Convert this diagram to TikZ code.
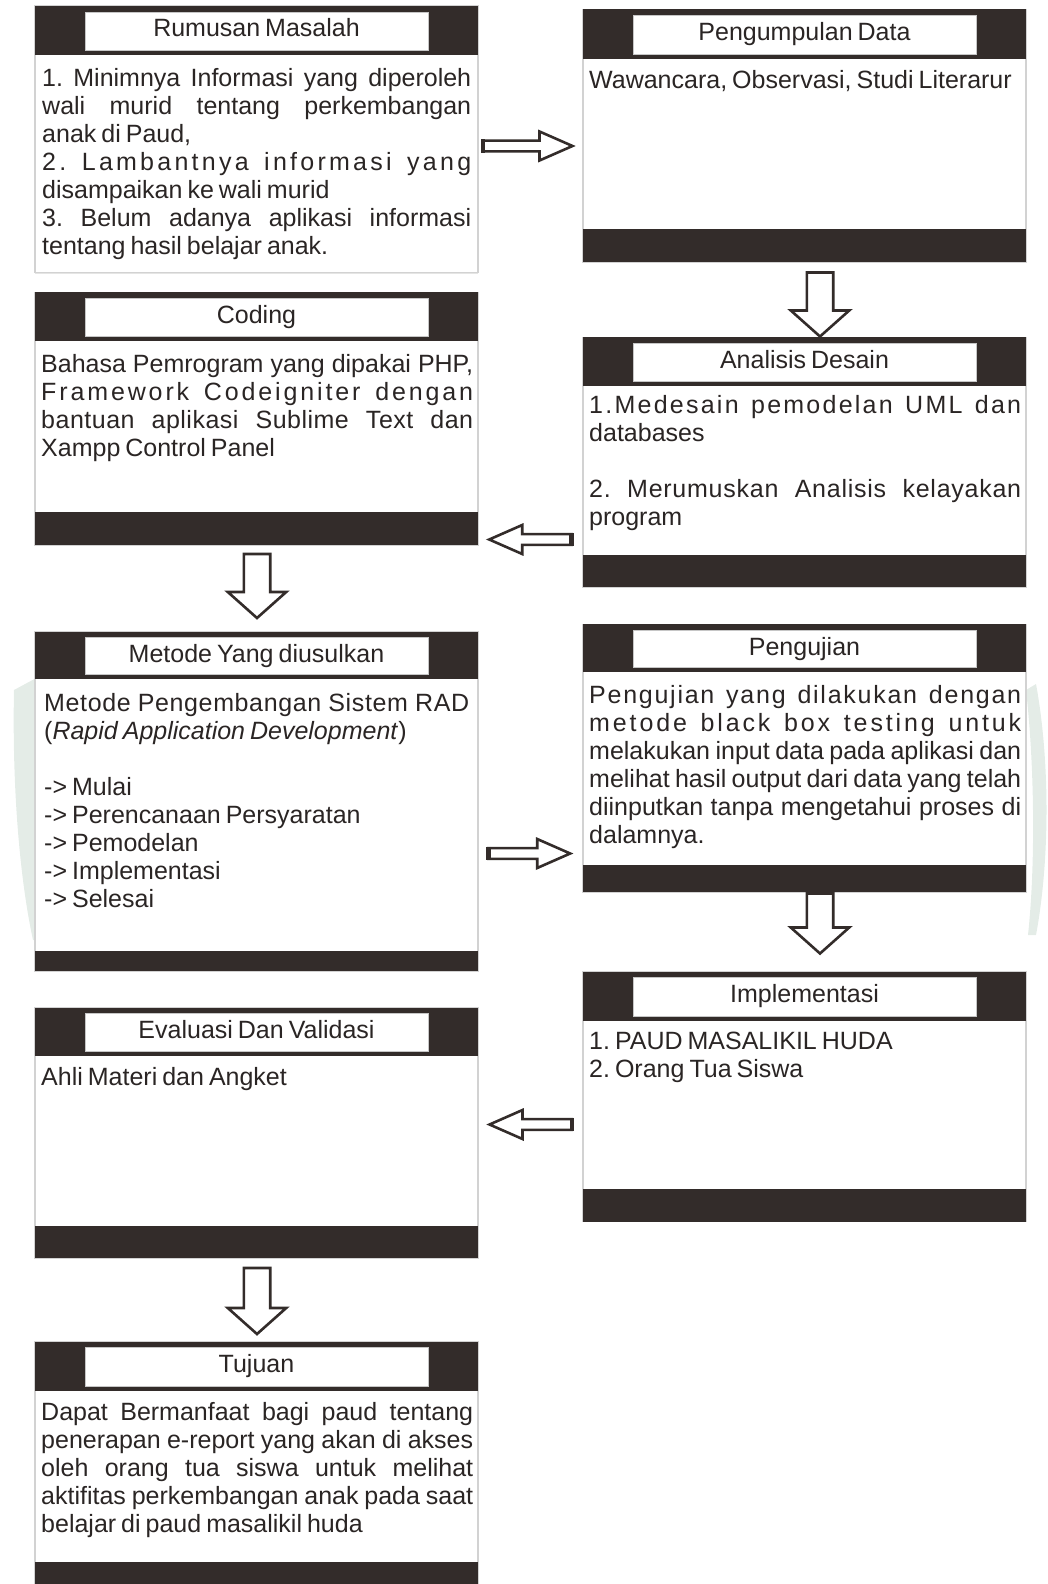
\documentclass[tikz,border=0pt]{standalone}
\usepackage{fontspec}
\setmainfont{Liberation Sans}
\usetikzlibrary{fit}
\definecolor{ink}{HTML}{332C2A}
\definecolor{txt}{HTML}{2A2524}
\definecolor{framegray}{HTML}{D2D2D2}
\definecolor{wmark}{HTML}{E4ECE7}
\newcommand\bodysize{\fontsize{25}{28}\selectfont}
\newcommand\bsp{\spaceskip=0.2em plus 0.8em minus 0.05em\xspaceskip=\spaceskip\relax}
\newcommand\jl[1]{\makebox[\hsize][s]{\bsp#1}}
\newcommand\jls[2]{\makebox[\hsize][s]{\addfontfeature{LetterSpace=#1}\bsp#2}}
\tikzset{
  boxframe/.style={draw=framegray, line width=1.2pt, fill=white, inner sep=0pt},
  ttl/.style={draw=gray!45, line width=0.7pt, fill=white, inner sep=0pt},
  ttltext/.style={font=\bodysize, text=txt, inner sep=0pt, anchor=base},
  body/.style={font=\bodysize, text=txt, inner sep=0pt, anchor=north west},
  barrow/.style={draw=ink, line width=2.6pt, fill=white, line join=miter},
}
% panel: name, x0, x1, top, header bottom, bar top, bottom, title
\newcommand\panel[8]{%
  \node[boxframe, fit={(#2,#4) (#3,#7)}] (#1) {};
  \fill[ink] (#2,#4) rectangle (#3,#5);
  \fill[ink] (#2,#6) rectangle (#3,#7);
  \node[ttl, fit={(#2+50,#4+6) (#3-49.5,#5-4.5)}] (#1-t) {};
  \node[ttltext] (#1-l) at ({(#2+#3)/2},#4+31) {\bsp#8};
}
% horizontal block arrow: tail x, tip x, y
\newcommand\hblock[3]{%
  \pgfmathsetmacro\hbase{#2-33*sign(#2-#1)}%
  \draw[barrow] (#1,#3-5.4) -- (\hbase,#3-5.4) -- (\hbase,#3-14.5) -- (#2,#3) -- (\hbase,#3+14.5) -- (\hbase,#3+5.4) -- (#1,#3+5.4) -- cycle;
  \draw[ink, line width=4.5pt] (#1,#3-6.7) -- (#1,#3+6.7);
}
% vertical (down) block arrow: x, top y, tip y
\newcommand\vblock[3]{%
  \draw[barrow] (#1-13.2,#2) -- (#1-13.2,#3-26) -- (#1-29.2,#3-26) -- (#1,#3) -- (#1+29.2,#3-26) -- (#1+13.2,#3-26) -- (#1+13.2,#2) -- cycle;
}
\begin{document}
\begin{tikzpicture}[x=1pt,y=-1pt]
\useasboundingbox (0,0) rectangle (1047,1584);
% faint watermark
\fill[wmark] (14,690) -- (40,676) -- (40,940) -- (33,940) .. controls (20,880) and (12,790) .. (14,690) -- cycle;
\fill[wmark] (1026,690) .. controls (1034,760) and (1036,860) .. (1028,935) -- (1036,935) .. controls (1050,860) and (1050,760) .. (1036,684) -- cycle;

% panels
\panel{rm}{35}{478}{6}{55}{272.7}{272.7}{Rumusan Masalah}
\panel{pd}{583}{1026}{9.4}{58.8}{229.2}{262.2}{Pengumpulan Data}
\panel{cd}{35}{478}{292.4}{341}{512}{545}{Coding}
\panel{ad}{583}{1026}{337.3}{386}{555}{587.3}{Analisis Desain}
\panel{mt}{35}{478}{631.6}{678.5}{951}{971}{Metode Yang diusulkan}
\panel{pj}{583}{1026}{624.3}{671.7}{864.5}{892}{Pengujian}
\panel{im}{583}{1026}{971.7}{1021}{1189.3}{1221.7}{Implementasi}
\panel{ev}{35}{478}{1007.6}{1056}{1226}{1258}{Evaluasi Dan Validasi}
\panel{tj}{35}{478}{1341.8}{1390.9}{1562.3}{1584}{Tujuan}

% body texts
\node[body, text width=429pt] (rm-b) at (42,66.4) {\bsp\strut\jl{1. Minimnya Informasi yang diperoleh}\\
\jl{wali murid tentang perkembangan}\\
anak di Paud,\\
\jls{13}{2. Lambantnya informasi yang}\\
disampaikan ke wali murid\\
\jl{3. Belum adanya aplikasi informasi}\\
tentang hasil belajar anak.};

\node[body, text width=433pt] (pd-b) at (589,68.4) {\bsp\strut Wawancara, Observasi, Studi Literarur};

\node[body, text width=432pt] (cd-b) at (41,352.4) {\bsp\strut\jl{Bahasa Pemrogram yang dipakai PHP,}\\
\jls{11.5}{Framework Codeigniter dengan}\\
\jls{2}{bantuan aplikasi Sublime Text dan}\\
Xampp Control Panel};

\node[body, text width=432pt] (ad-b) at (589,393.7) {\bsp\strut\jls{9}{1.Medesain pemodelan UML dan}\\
databases\\[28pt]
\jls{3}{2. Merumuskan Analisis kelayakan}\\
program};

\node[body, text width=425pt] (mt-b) at (44,691.4) {\bsp\strut\jls{2.5}{Metode Pengembangan Sistem RAD}\\
(\textit{Rapid Application Development})\\[28pt]
-> Mulai\\
-> Perencanaan Persyaratan\\
-> Pemodelan\\
-> Implementasi\\
-> Selesai};

\node[body, text width=432pt] (pj-b) at (589,683.4) {\bsp\strut\jls{7}{Pengujian yang dilakukan dengan}\\
\jls{11.5}{metode black box testing untuk}\\
\jl{melakukan input data pada aplikasi dan}\\
\jl{melihat hasil output dari data yang telah}\\
\jl{diinputkan tanpa mengetahui proses di}\\
dalamnya.};

\node[body, text width=432pt] (im-b) at (589,1029.7) {\bsp\strut 1. PAUD MASALIKIL HUDA\\
2. Orang Tua Siswa};

\node[body, text width=432pt] (ev-b) at (41,1065.4) {\bsp\strut Ahli Materi dan Angket};

\node[body, text width=432pt] (tj-b) at (41,1401) {\bsp\strut\jl{Dapat Bermanfaat bagi paud tentang}\\
\jl{penerapan e-report yang akan di akses}\\
\jl{oleh orang tua siswa untuk melihat}\\
\jl{aktifitas perkembangan anak pada saat}\\
belajar di paud masalikil huda};

% block arrows
\hblock{483.2}{572.5}{146}
\vblock{820}{272.5}{336.5}
\hblock{571.5}{489.2}{539.5}
\vblock{257}{554}{618}
\hblock{488.5}{570.2}{853.5}
\vblock{820}{893.5}{953.5}
\hblock{571.8}{489.5}{1124.5}
\vblock{257}{1268}{1334}
\end{tikzpicture}
\end{document}
